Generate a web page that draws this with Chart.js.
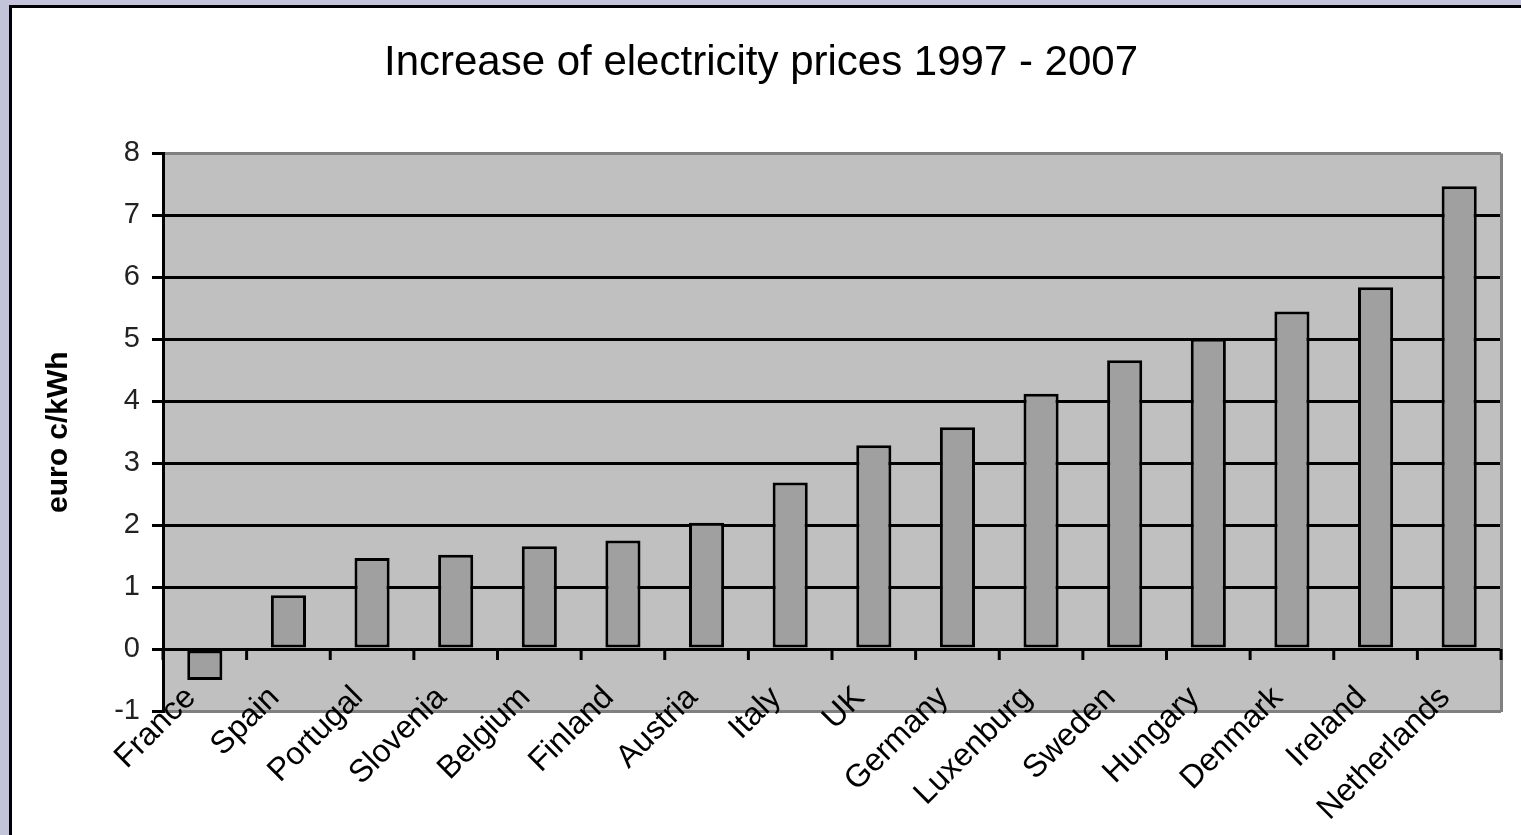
<!DOCTYPE html>
<html>
<head>
<meta charset="utf-8">
<script src="https://cdn.jsdelivr.net/npm/chart.js"></script>
<style>
    html, body { margin: 0; background: #c3c3d9; overflow: hidden; width: 1521px; height: 835px; }
    #frame { position: absolute; left: 9px; top: 5px; right: 0; bottom: 0; border-left: 3px solid #000; border-top: 3px solid #000; background: #fff; }
    #wrap { position: absolute; left: 12px; top: 8px; width: 1509px; height: 827px; }
</style>
</head>
<body>
<div id="frame"></div>
<div id="wrap"><canvas id="priceChart"></canvas></div>
<script>
    // Increase of electricity prices 1997 - 2007, euro c/kWh
    const countries = ['France', 'Spain', 'Portugal', 'Slovenia', 'Belgium', 'Finland', 'Austria', 'Italy',
        'UK', 'Germany', 'Luxenburg', 'Sweden', 'Hungary', 'Denmark', 'Ireland', 'Netherlands'];
    const increase = [-0.5, 0.87, 1.47, 1.52, 1.66, 1.75, 2.04, 2.69, 3.29, 3.58, 4.12, 4.66, 5.01, 5.45, 5.84, 7.47];
    const yMin = -1;
    const yMax = 8;

    const font = '"Liberation Sans", Arial, sans-serif';

    // Gray plot background, gray right border and the little ticks on the zero line
    const plotFrame = {
        id: 'plotFrame',
        beforeDraw(chart) {
            const { ctx, chartArea: a } = chart;
            ctx.save();
            ctx.fillStyle = '#c0c0c0';
            ctx.fillRect(a.left, a.top, a.right - a.left, a.bottom - a.top);
            ctx.restore();
        },
        beforeDatasetsDraw(chart) {
            const { ctx, chartArea: a, scales } = chart;
            const y0 = scales.y.getPixelForValue(0);
            ctx.save();
            ctx.strokeStyle = '#808080';
            ctx.lineWidth = 3;
            ctx.beginPath();
            ctx.moveTo(a.right + 0.5, a.top);
            ctx.lineTo(a.right + 0.5, a.bottom + 1);
            ctx.stroke();
            ctx.strokeStyle = '#000';
            ctx.beginPath();
            for (let i = 0; i <= countries.length; i++) {
                const x = scales.x.getPixelForValue(i - 0.5);
                ctx.moveTo(x, y0);
                ctx.lineTo(x, y0 + 11);
            }
            ctx.stroke();
            ctx.restore();
        }
    };

    const ctx = document.getElementById('priceChart').getContext('2d');
    const priceChart = new Chart(ctx, {
        type: 'bar',
        data: {
            labels: countries,
            datasets: [{
                data: increase,
                backgroundColor: '#a0a0a0',
                borderColor: '#000',
                borderWidth: 3,
                borderSkipped: false,
                inflateAmount: 0,
                barPercentage: 0.42,
                categoryPercentage: 1
            }]
        },
        options: {
            responsive: true,
            maintainAspectRatio: false,
            animation: false,
            layout: { padding: { left: 9, right: 20, top: 0, bottom: 0 } },
            plugins: {
                legend: { display: false },
                tooltip: { enabled: false },
                title: {
                    display: true,
                    text: 'Increase of electricity prices 1997 - 2007',
                    color: '#000',
                    font: { family: font, size: 42, weight: 'normal' },
                    padding: { top: 30, bottom: 65 }
                }
            },
            scales: {
                x: {
                    grid: { display: false, drawTicks: false },
                    border: { display: false },
                    ticks: {
                        autoSkip: false,
                        maxRotation: 45,
                        minRotation: 45,
                        padding: -32,
                        labelOffset: -14,
                        color: '#000',
                        font: { family: font, size: 32 }
                    },
                    afterFit(scale) {
                        scale.height = 124;
                        // labels reach up into the plot, as in the original, so don't clip them
                        scale._computeLabelArea = () => null;
                    }
                },
                y: {
                    min: yMin,
                    max: yMax,
                    grid: {
                        lineWidth: 3,
                        color: (c) => (c.tick && (c.tick.value === yMax || c.tick.value === yMin)) ? '#808080' : '#000',
                        tickColor: '#000',
                        tickLength: 11
                    },
                    border: { display: true, color: '#000', width: 3 },
                    ticks: {
                        stepSize: 1,
                        padding: 12,
                        color: '#222',
                        font: { family: font, size: 29 }
                    },
                    title: {
                        display: true,
                        text: 'euro c/kWh',
                        color: '#000',
                        padding: { top: 20, bottom: 0 },
                        font: { family: font, size: 30, weight: 'bold' }
                    },
                    afterFit(scale) { scale.width = 142; }
                }
            }
        },
        plugins: [plotFrame]
    });
</script>
</body>
</html>
